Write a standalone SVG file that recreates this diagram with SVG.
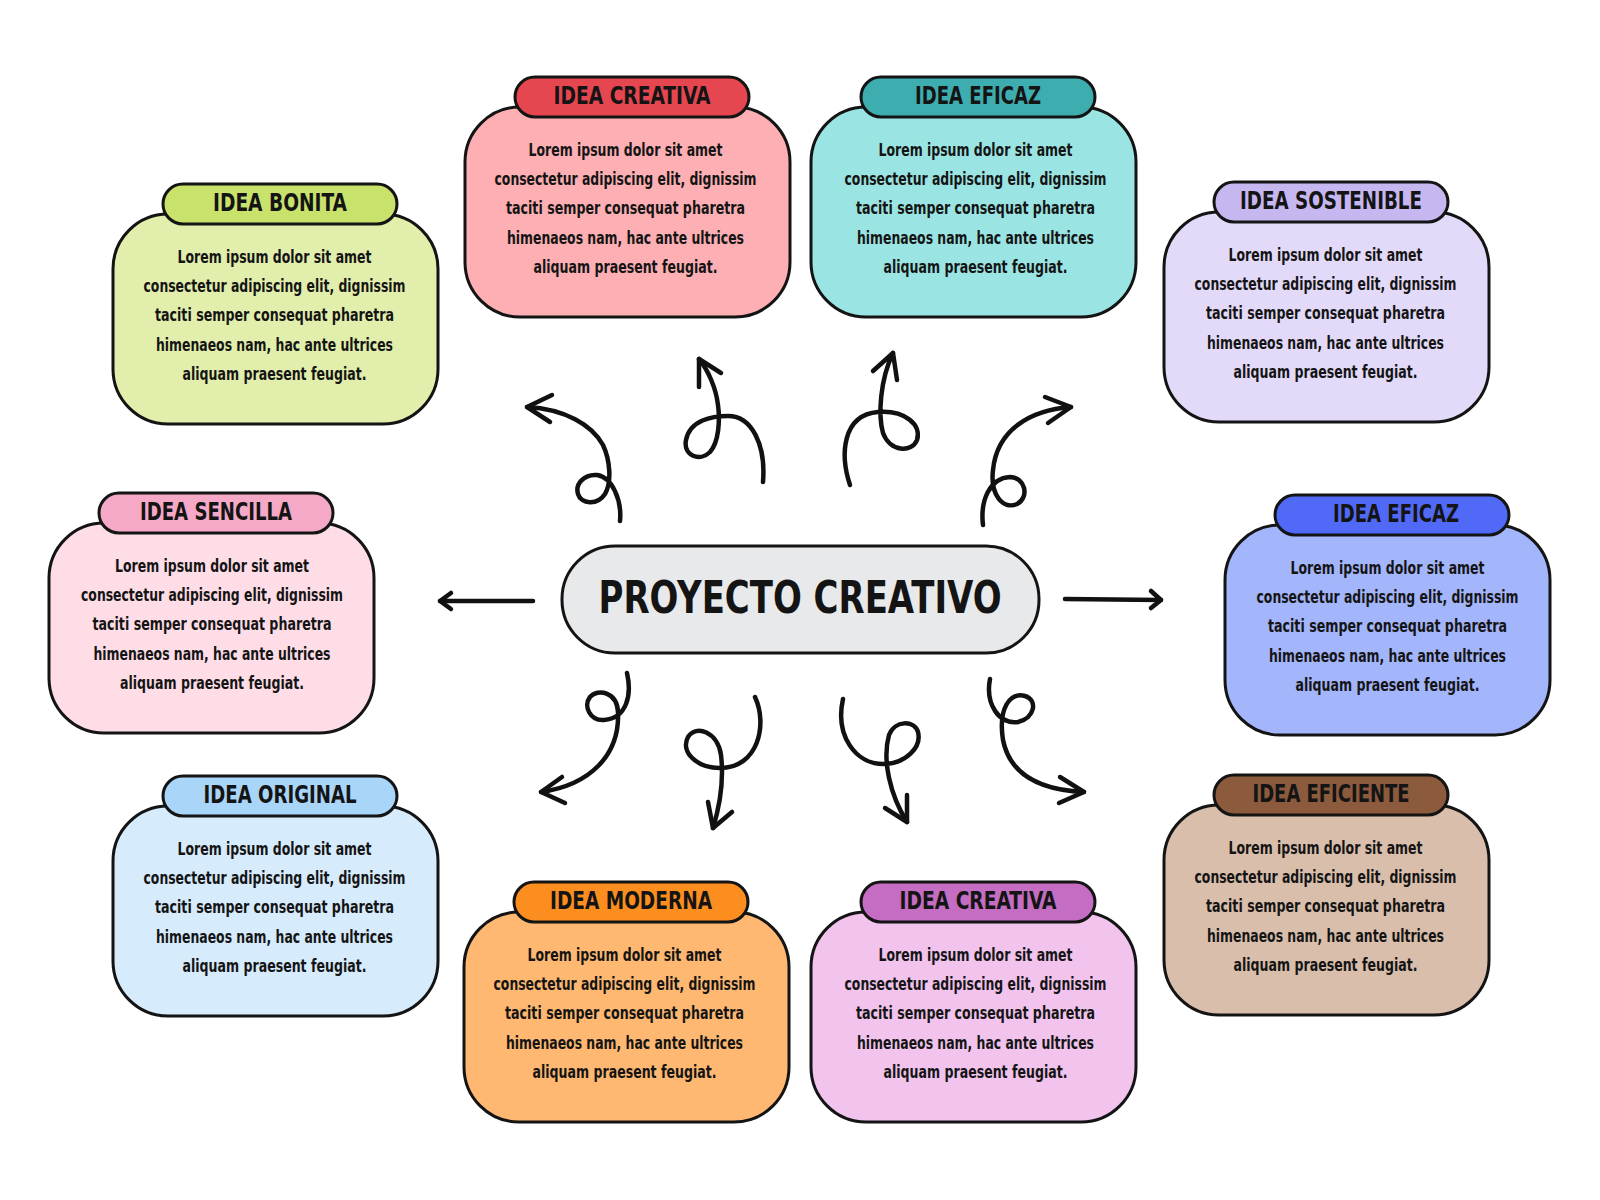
<svg xmlns="http://www.w3.org/2000/svg" width="1600" height="1200" viewBox="0 0 1600 1200">
<defs>
<style>
.bg{fill:#ffffff}
.box{stroke:#141414;stroke-width:3}
.tx{font-family:"Liberation Sans Narrow","DejaVu Sans Condensed","Roboto",sans-serif;font-weight:700;fill:#141414;text-anchor:middle}
.ttl{font-size:24px}
.bt{font-size:17.5px}
.main{font-size:45px}
.arr{fill:none;stroke:#111111;stroke-width:4.5;stroke-linecap:round;stroke-linejoin:round}
</style>
</defs>
<rect class="bg" x="0" y="0" width="1600" height="1200"/>

<g id="connectors">
<path class="arr" d="M620,521 C622,500 612,477 597,475 C584,474 575,484 578,494 C581,504 597,506 605,494 C612,482 610,460 603,445 C592,425 565,409 527,407"/>
<path class="arr" d="M552,395 L527,407 L550,422"/>
<path class="arr" d="M763,482 C766,445 752,416 728,416 C712,416 690,420 686,440 C683,456 700,462 710,452 C719,442 720,420 718,405 C716,388 708,370 699,359"/>
<path class="arr" d="M699,387 L699,359 L721,373"/>
<path class="arr" d="M850,485 C840,455 842,415 878,412 C905,410 922,425 917,440 C912,453 890,452 883,433 C878,415 880,380 893,353"/>
<path class="arr" d="M873,371 L893,353 L897,380"/>
<path class="arr" d="M983,525 C980,500 990,478 1010,477 C1025,477 1030,497 1017,504 C1003,510 990,495 993,470 C997,430 1030,410 1071,407"/>
<path class="arr" d="M1045,397 L1071,407 L1048,423"/>
<path class="arr" d="M533,601 L440,601"/>
<path class="arr" d="M451,593 L440,601 L451,609"/>
<path class="arr" d="M1065,599 L1161,600"/>
<path class="arr" d="M1151,591 L1161,600 L1151,608"/>
<path class="arr" d="M627,673 C632,695 627,718 604,720 C590,721 583,706 590,697 C598,688 617,692 618,712 C620,755 590,785 541,792"/>
<path class="arr" d="M562,777 L541,792 L565,803"/>
<path class="arr" d="M755,697 C768,725 758,768 720,768 C697,768 680,752 688,737 C696,724 718,732 721,755 C724,780 720,805 713,828"/>
<path class="arr" d="M708,802 L713,828 L732,812"/>
<path class="arr" d="M843,699 C835,735 855,765 885,764 C905,763 922,748 918,732 C914,720 895,720 889,735 C882,760 890,795 907,822"/>
<path class="arr" d="M885,808 L907,822 L907,795"/>
<path class="arr" d="M990,679 C985,705 1000,725 1018,722 C1035,718 1038,700 1025,696 C1010,692 998,708 1003,740 C1010,775 1040,790 1084,792"/>
<path class="arr" d="M1060,777 L1084,792 L1059,803"/>
</g>

<g id="center">
<rect class="box" x="562" y="546" width="477" height="107" rx="53" fill="#E8E9EB"/>
<text class="tx main" x="800" y="613" textLength="403" lengthAdjust="spacingAndGlyphs">PROYECTO CREATIVO</text>
</g>

<g id="idea-creativa-1">
<rect class="box" x="465" y="107" width="325" height="210" rx="55" fill="#FDAFB3"/>
<rect class="box" x="515" y="77" width="234" height="40" rx="20" fill="#E5464F"/>
<text class="tx ttl" x="632" y="103.5" textLength="157" lengthAdjust="spacingAndGlyphs">IDEA CREATIVA</text>
<text class="tx bt" x="625.5" y="156" textLength="194" lengthAdjust="spacingAndGlyphs">Lorem ipsum dolor sit amet</text>
<text class="tx bt" x="625.5" y="185.2" textLength="262" lengthAdjust="spacingAndGlyphs">consectetur adipiscing elit, dignissim</text>
<text class="tx bt" x="625.5" y="214.4" textLength="239" lengthAdjust="spacingAndGlyphs">taciti semper consequat pharetra</text>
<text class="tx bt" x="625.5" y="243.6" textLength="237" lengthAdjust="spacingAndGlyphs">himenaeos nam, hac ante ultrices</text>
<text class="tx bt" x="625.5" y="272.8" textLength="184" lengthAdjust="spacingAndGlyphs">aliquam praesent feugiat.</text>
</g>

<g id="idea-eficaz-1">
<rect class="box" x="811" y="107" width="325" height="210" rx="55" fill="#9AE5E3"/>
<rect class="box" x="861" y="77" width="234" height="40" rx="20" fill="#3DADAF"/>
<text class="tx ttl" x="978" y="103.5" textLength="126" lengthAdjust="spacingAndGlyphs">IDEA EFICAZ</text>
<text class="tx bt" x="975.5" y="156" textLength="194" lengthAdjust="spacingAndGlyphs">Lorem ipsum dolor sit amet</text>
<text class="tx bt" x="975.5" y="185.2" textLength="262" lengthAdjust="spacingAndGlyphs">consectetur adipiscing elit, dignissim</text>
<text class="tx bt" x="975.5" y="214.4" textLength="239" lengthAdjust="spacingAndGlyphs">taciti semper consequat pharetra</text>
<text class="tx bt" x="975.5" y="243.6" textLength="237" lengthAdjust="spacingAndGlyphs">himenaeos nam, hac ante ultrices</text>
<text class="tx bt" x="975.5" y="272.8" textLength="184" lengthAdjust="spacingAndGlyphs">aliquam praesent feugiat.</text>
</g>

<g id="idea-bonita">
<rect class="box" x="113" y="214" width="325" height="210" rx="55" fill="#E2EEAB"/>
<rect class="box" x="163" y="184" width="234" height="40" rx="20" fill="#C9E26C"/>
<text class="tx ttl" x="280" y="210.5" textLength="134" lengthAdjust="spacingAndGlyphs">IDEA BONITA</text>
<text class="tx bt" x="274.5" y="263" textLength="194" lengthAdjust="spacingAndGlyphs">Lorem ipsum dolor sit amet</text>
<text class="tx bt" x="274.5" y="292.2" textLength="262" lengthAdjust="spacingAndGlyphs">consectetur adipiscing elit, dignissim</text>
<text class="tx bt" x="274.5" y="321.4" textLength="239" lengthAdjust="spacingAndGlyphs">taciti semper consequat pharetra</text>
<text class="tx bt" x="274.5" y="350.6" textLength="237" lengthAdjust="spacingAndGlyphs">himenaeos nam, hac ante ultrices</text>
<text class="tx bt" x="274.5" y="379.8" textLength="184" lengthAdjust="spacingAndGlyphs">aliquam praesent feugiat.</text>
</g>

<g id="idea-sostenible">
<rect class="box" x="1164" y="212" width="325" height="210" rx="55" fill="#E3DAF9"/>
<rect class="box" x="1214" y="182" width="234" height="40" rx="20" fill="#C7B7F1"/>
<text class="tx ttl" x="1331" y="208.5" textLength="182" lengthAdjust="spacingAndGlyphs">IDEA SOSTENIBLE</text>
<text class="tx bt" x="1325.5" y="261" textLength="194" lengthAdjust="spacingAndGlyphs">Lorem ipsum dolor sit amet</text>
<text class="tx bt" x="1325.5" y="290.2" textLength="262" lengthAdjust="spacingAndGlyphs">consectetur adipiscing elit, dignissim</text>
<text class="tx bt" x="1325.5" y="319.4" textLength="239" lengthAdjust="spacingAndGlyphs">taciti semper consequat pharetra</text>
<text class="tx bt" x="1325.5" y="348.6" textLength="237" lengthAdjust="spacingAndGlyphs">himenaeos nam, hac ante ultrices</text>
<text class="tx bt" x="1325.5" y="377.8" textLength="184" lengthAdjust="spacingAndGlyphs">aliquam praesent feugiat.</text>
</g>

<g id="idea-sencilla">
<rect class="box" x="49" y="523" width="325" height="210" rx="55" fill="#FEDDE7"/>
<rect class="box" x="99" y="493" width="234" height="40" rx="20" fill="#F6A9C7"/>
<text class="tx ttl" x="216" y="519.5" textLength="152" lengthAdjust="spacingAndGlyphs">IDEA SENCILLA</text>
<text class="tx bt" x="212" y="572" textLength="194" lengthAdjust="spacingAndGlyphs">Lorem ipsum dolor sit amet</text>
<text class="tx bt" x="212" y="601.2" textLength="262" lengthAdjust="spacingAndGlyphs">consectetur adipiscing elit, dignissim</text>
<text class="tx bt" x="212" y="630.4" textLength="239" lengthAdjust="spacingAndGlyphs">taciti semper consequat pharetra</text>
<text class="tx bt" x="212" y="659.6" textLength="237" lengthAdjust="spacingAndGlyphs">himenaeos nam, hac ante ultrices</text>
<text class="tx bt" x="212" y="688.8" textLength="184" lengthAdjust="spacingAndGlyphs">aliquam praesent feugiat.</text>
</g>

<g id="idea-eficaz-2">
<rect class="box" x="1225" y="525" width="325" height="210" rx="55" fill="#A3B5FB"/>
<rect class="box" x="1275" y="495" width="234" height="40" rx="20" fill="#5169F7"/>
<text class="tx ttl" x="1396" y="521.5" textLength="126" lengthAdjust="spacingAndGlyphs">IDEA EFICAZ</text>
<text class="tx bt" x="1387.5" y="574" textLength="194" lengthAdjust="spacingAndGlyphs">Lorem ipsum dolor sit amet</text>
<text class="tx bt" x="1387.5" y="603.2" textLength="262" lengthAdjust="spacingAndGlyphs">consectetur adipiscing elit, dignissim</text>
<text class="tx bt" x="1387.5" y="632.4" textLength="239" lengthAdjust="spacingAndGlyphs">taciti semper consequat pharetra</text>
<text class="tx bt" x="1387.5" y="661.6" textLength="237" lengthAdjust="spacingAndGlyphs">himenaeos nam, hac ante ultrices</text>
<text class="tx bt" x="1387.5" y="690.8" textLength="184" lengthAdjust="spacingAndGlyphs">aliquam praesent feugiat.</text>
</g>

<g id="idea-original">
<rect class="box" x="113" y="806" width="325" height="210" rx="55" fill="#D6EBFC"/>
<rect class="box" x="163" y="776" width="234" height="40" rx="20" fill="#A9D5F9"/>
<text class="tx ttl" x="280" y="802.5" textLength="153" lengthAdjust="spacingAndGlyphs">IDEA ORIGINAL</text>
<text class="tx bt" x="274.5" y="855" textLength="194" lengthAdjust="spacingAndGlyphs">Lorem ipsum dolor sit amet</text>
<text class="tx bt" x="274.5" y="884.2" textLength="262" lengthAdjust="spacingAndGlyphs">consectetur adipiscing elit, dignissim</text>
<text class="tx bt" x="274.5" y="913.4" textLength="239" lengthAdjust="spacingAndGlyphs">taciti semper consequat pharetra</text>
<text class="tx bt" x="274.5" y="942.6" textLength="237" lengthAdjust="spacingAndGlyphs">himenaeos nam, hac ante ultrices</text>
<text class="tx bt" x="274.5" y="971.8" textLength="184" lengthAdjust="spacingAndGlyphs">aliquam praesent feugiat.</text>
</g>

<g id="idea-eficiente">
<rect class="box" x="1164" y="805" width="325" height="210" rx="55" fill="#D9BEAB"/>
<rect class="box" x="1214" y="775" width="234" height="40" rx="20" fill="#8C5A3D"/>
<text class="tx ttl" x="1331" y="801.5" textLength="157" lengthAdjust="spacingAndGlyphs">IDEA EFICIENTE</text>
<text class="tx bt" x="1325.5" y="854" textLength="194" lengthAdjust="spacingAndGlyphs">Lorem ipsum dolor sit amet</text>
<text class="tx bt" x="1325.5" y="883.2" textLength="262" lengthAdjust="spacingAndGlyphs">consectetur adipiscing elit, dignissim</text>
<text class="tx bt" x="1325.5" y="912.4" textLength="239" lengthAdjust="spacingAndGlyphs">taciti semper consequat pharetra</text>
<text class="tx bt" x="1325.5" y="941.6" textLength="237" lengthAdjust="spacingAndGlyphs">himenaeos nam, hac ante ultrices</text>
<text class="tx bt" x="1325.5" y="970.8" textLength="184" lengthAdjust="spacingAndGlyphs">aliquam praesent feugiat.</text>
</g>

<g id="idea-moderna">
<rect class="box" x="464" y="912" width="325" height="210" rx="55" fill="#FEB871"/>
<rect class="box" x="514" y="882" width="234" height="40" rx="20" fill="#FC8E1F"/>
<text class="tx ttl" x="631" y="908.5" textLength="162" lengthAdjust="spacingAndGlyphs">IDEA MODERNA</text>
<text class="tx bt" x="624.5" y="961" textLength="194" lengthAdjust="spacingAndGlyphs">Lorem ipsum dolor sit amet</text>
<text class="tx bt" x="624.5" y="990.2" textLength="262" lengthAdjust="spacingAndGlyphs">consectetur adipiscing elit, dignissim</text>
<text class="tx bt" x="624.5" y="1019.4" textLength="239" lengthAdjust="spacingAndGlyphs">taciti semper consequat pharetra</text>
<text class="tx bt" x="624.5" y="1048.6" textLength="237" lengthAdjust="spacingAndGlyphs">himenaeos nam, hac ante ultrices</text>
<text class="tx bt" x="624.5" y="1077.8" textLength="184" lengthAdjust="spacingAndGlyphs">aliquam praesent feugiat.</text>
</g>

<g id="idea-creativa-2">
<rect class="box" x="811" y="912" width="325" height="210" rx="55" fill="#F1C3ED"/>
<rect class="box" x="861" y="882" width="234" height="40" rx="20" fill="#C56CC3"/>
<text class="tx ttl" x="978" y="908.5" textLength="157" lengthAdjust="spacingAndGlyphs">IDEA CREATIVA</text>
<text class="tx bt" x="975.5" y="961" textLength="194" lengthAdjust="spacingAndGlyphs">Lorem ipsum dolor sit amet</text>
<text class="tx bt" x="975.5" y="990.2" textLength="262" lengthAdjust="spacingAndGlyphs">consectetur adipiscing elit, dignissim</text>
<text class="tx bt" x="975.5" y="1019.4" textLength="239" lengthAdjust="spacingAndGlyphs">taciti semper consequat pharetra</text>
<text class="tx bt" x="975.5" y="1048.6" textLength="237" lengthAdjust="spacingAndGlyphs">himenaeos nam, hac ante ultrices</text>
<text class="tx bt" x="975.5" y="1077.8" textLength="184" lengthAdjust="spacingAndGlyphs">aliquam praesent feugiat.</text>
</g>
</svg>
